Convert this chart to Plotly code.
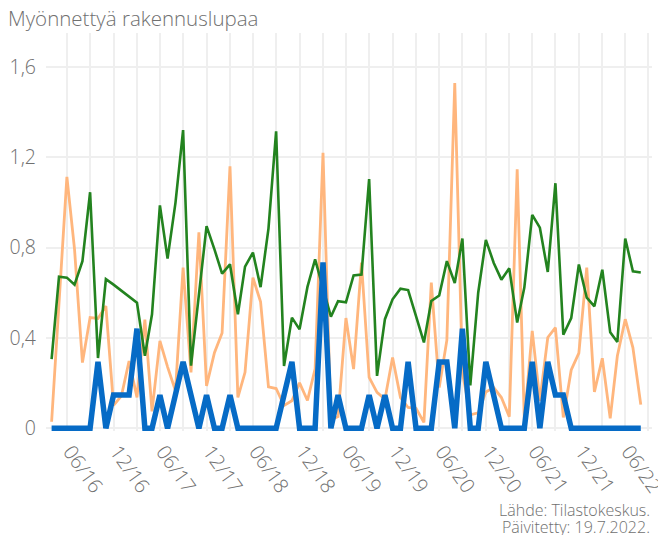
import pandas as pd
import plotly.graph_objects as go

# Monthly data, Feb 2016 - Jun 2022
months = pd.date_range("2016-02-01", "2022-06-01", freq="MS")

green = [0.306, 0.671, 0.667, 0.636, 0.740, 1.045, 0.311, 0.660, 0.636, 0.609, 0.583, 0.556,
         0.321, 0.505, 0.987, 0.751, 0.998, 1.320, 0.277, 0.587, 0.895, 0.792, 0.685, 0.726,
         0.505, 0.716, 0.778, 0.625, 0.884, 1.315, 0.276, 0.490, 0.438, 0.626, 0.748, 0.620,
         0.494, 0.563, 0.558, 0.677, 0.681, 1.103, 0.232, 0.483, 0.571, 0.618, 0.612, 0.497,
         0.380, 0.564, 0.588, 0.740, 0.643, 0.840, 0.190, 0.600, 0.834, 0.732, 0.658, 0.708,
         0.468, 0.623, 0.945, 0.888, 0.692, 1.085, 0.414, 0.488, 0.725, 0.578, 0.540, 0.702,
         0.425, 0.382, 0.840, 0.695, 0.690]

orange = [0.029, 0.571, 1.113, 0.792, 0.291, 0.490, 0.486, 0.541, 0.101, 0.144, 0.298, 0.137,
          0.481, 0.075, 0.387, 0.272, 0.166, 0.711, 0.247, 0.868, 0.188, 0.335, 0.422, 1.160,
          0.137, 0.248, 0.667, 0.560, 0.183, 0.176, 0.101, 0.122, 0.201, 0.123, 0.263, 1.220,
          0.037, 0.052, 0.488, 0.262, 0.733, 0.225, 0.159, 0.129, 0.313, 0.136, 0.092, 0.088,
          0.026, 0.645, 0.181, 0.390, 1.528, 0.247, 0.060, 0.068, 0.161, 0.180, 0.136, 0.051,
          1.147, 0.035, 0.431, 0.122, 0.402, 0.446, 0.048, 0.258, 0.333, 0.711, 0.161, 0.310,
          0.044, 0.320, 0.483, 0.357, 0.105]

blue = [0, 0, 0, 0, 0, 0, 0.294, 0, 0.147, 0.147, 0.147, 0.441,
        0, 0, 0.147, 0, 0.147, 0.294, 0.147, 0, 0.147, 0, 0, 0.147,
        0, 0, 0, 0, 0, 0, 0.147, 0.294, 0, 0, 0, 0.735,
        0, 0.147, 0, 0, 0, 0.147, 0, 0.147, 0, 0, 0.294, 0,
        0, 0, 0.294, 0.294, 0, 0.441, 0, 0, 0.294, 0.147, 0, 0,
        0, 0, 0.294, 0, 0.294, 0.147, 0.147, 0, 0, 0, 0, 0,
        0, 0, 0, 0, 0]

y_ticks = [0, 0.4, 0.8, 1.2, 1.6]

title_text = "Myönnettyä rakennuslupaa"
source_lines = ["Lähde: Tilastokeskus.", "Päivitetty: 19.7.2022."]

FONT = "Open Sans"
GRAY = "#707070"

fig = go.Figure()
fig.add_trace(go.Scatter(x=months, y=orange, mode="lines",
                         line=dict(color="#FFB67D", width=2.8), showlegend=False))
fig.add_trace(go.Scatter(x=months, y=green, mode="lines",
                         line=dict(color="#23831F", width=2.6), showlegend=False))
fig.add_trace(go.Scatter(x=months, y=blue, mode="lines",
                         line=dict(color="#066BC6", width=5.5), showlegend=False))

fig.update_layout(
    width=658, height=527,
    margin=dict(l=38, r=14, t=25, b=103.5),
    paper_bgcolor="white", plot_bgcolor="white",
    separators=", ",
    showlegend=False,
    font=dict(family=FONT, color=GRAY, weight=300),
    title=dict(text=title_text, x=0, xref="container", xanchor="left",
               y=1 - 11 / 527, yref="container", yanchor="middle",
               pad=dict(l=0, t=0, b=0, r=0),
               font=dict(family=FONT, size=20.5, color=GRAY, weight=300)),
    xaxis=dict(
        type="date",
        automargin=False,
        range=["2016-01-10", "2022-07-15"],
        tickmode="linear", tick0="2016-06-01", dtick="M6",
        tickformat="%m/%y",
        tickangle=55,
        ticklabelshift=-12,
        ticklabelstandoff=4,
        ticklabeloverflow="allow",
        showgrid=False, zeroline=False, showline=False, ticks="",
        tickfont=dict(family=FONT, size=20, color=GRAY, weight=300),
        minor=dict(tick0="2016-04-01", dtick="M3", showgrid=True,
                   gridcolor="#EFEFEF", gridwidth=1.6, ticks=""),
    ),
    yaxis=dict(
        automargin=False,
        range=[-0.012, 1.75],
        tickmode="array", tickvals=y_ticks,
        showgrid=True, gridcolor="#EFEFEF", gridwidth=1.6,
        zeroline=False, showline=False, ticks="",
        ticklabelstandoff=9,
        tickfont=dict(family=FONT, size=19.5, color=GRAY, weight=300),
    ),
    annotations=[
        dict(text=source_lines[0], xref="paper", yref="paper",
             x=1, y=-0.199, xanchor="right", yanchor="middle",
             align="right", showarrow=False,
             font=dict(family=FONT, size=16, color=GRAY, weight=300)),
        dict(text=source_lines[1], xref="paper", yref="paper",
             x=1, y=-0.24, xanchor="right", yanchor="middle",
             align="right", showarrow=False,
             font=dict(family=FONT, size=16, color=GRAY, weight=300)),
    ],
)

fig.write_html("out.html")
